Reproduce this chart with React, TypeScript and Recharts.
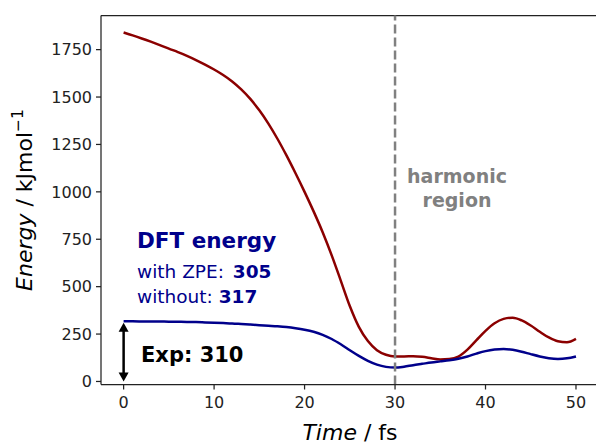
import { LineChart, Line, XAxis, YAxis, ReferenceLine } from "recharts";

// time in fs
const times = [0, 1, 2, 3, 4, 5, 6, 7, 8, 9, 10, 11, 12, 13, 14, 15, 16, 17, 18, 19, 20, 21, 22, 23, 24, 25, 26, 27, 28, 29, 30, 31, 32, 33, 34, 35, 36, 37, 38, 39, 40, 41, 42, 43, 44, 45, 46, 47, 48, 49, 50];
// energies in kJ/mol
const upperEnergy = [1840, 1825, 1809, 1792, 1774, 1755, 1737, 1717, 1695, 1671, 1645, 1616, 1582, 1540, 1490, 1430, 1360, 1280, 1192, 1098, 1000, 897, 787, 665, 532, 398, 288, 213, 165, 141, 132, 132, 133, 130, 123, 116, 118, 131, 168, 218, 267, 307, 330, 336, 322, 295, 262, 232, 212, 207, 225];
const lowerEnergy = [317, 317, 316.8, 316.5, 316, 315.5, 315, 314, 313, 311.5, 310, 308, 306, 303, 300, 297, 294, 291, 287, 281, 273, 262, 246, 224, 196, 165, 135, 109, 89, 77, 73, 78, 86, 93, 100, 106, 112, 120, 132, 147, 160, 168, 171, 167, 157, 144, 132, 123, 119, 122, 132];

const xTicks = [0, 10, 20, 30, 40, 50];
const yTicks = [0, 250, 500, 750, 1000, 1250, 1500, 1750];
const harmonicStart = 30;
const expValue = 310;

const data = times.map((t, i) => ({ t, upper: upperEnergy[i], lower: lowerEnergy[i] }));

const font = "'DejaVu Sans', sans-serif";
const navy = "#00008b";

function DoubleArrow(props: any) {
  const { x1, y1, x2, y2 } = props;
  const head = 9;
  const half = 5;
  const dir = y2 < y1 ? -1 : 1;
  return (
    <g>
      <line x1={x1} y1={y1 + dir * head * 0.6} x2={x2} y2={y2 - dir * head * 0.6} stroke="#000" strokeWidth={2.5} />
      <polygon points={`${x1},${y1} ${x1 - half},${y1 + dir * head} ${x1 + half},${y1 + dir * head}`} fill="#000" />
      <polygon points={`${x2},${y2} ${x2 - half},${y2 - dir * head} ${x2 + half},${y2 - dir * head}`} fill="#000" />
    </g>
  );
}

export default function App() {
  const tickStyle = { fontFamily: font, fontSize: 16, fill: "#222" };
  return (
    <div style={{ position: "absolute", left: 0, top: 0, width: 596, height: 444, overflow: "hidden", background: "#fff" }}>
      <LineChart width={600} height={444} data={data} margin={{ top: 15.5, right: 1.4, bottom: 0, left: 0 }}>
        <XAxis
          dataKey="t"
          type="number"
          domain={[-2.5, 52.5]}
          ticks={xTicks}
          height={59.5}
          tickSize={5}
          tickMargin={7}
          stroke="#222"
          strokeWidth={1.25}
          tick={tickStyle}
        />
        <YAxis
          type="number"
          domain={[-16, 1930]}
          ticks={yTicks}
          width={101}
          tickSize={5}
          tickMargin={4}
          stroke="#222"
          strokeWidth={1.25}
          tick={tickStyle}
        />
        <ReferenceLine y={1930} stroke="#222" strokeWidth={1.25} />
        <Line dataKey="upper" type="monotone" stroke="#8b0000" strokeWidth={2.5} dot={false} isAnimationActive={false} />
        <Line dataKey="lower" type="monotone" stroke={navy} strokeWidth={2.5} dot={false} isAnimationActive={false} />
        <ReferenceLine x={harmonicStart} stroke="#808080" strokeWidth={2.5} strokeDasharray="9 4" />
        <ReferenceLine
          segment={[{ x: 0, y: 0 }, { x: 0, y: expValue }]}
          shape={(p: any) => <DoubleArrow {...p} />}
        />
      </LineChart>
      <svg width={596} height={444} style={{ position: "absolute", left: 0, top: 0, pointerEvents: "none" }} fontFamily={font}>
        <text x={32} y={200} transform="rotate(-90 32 200)" textAnchor="middle" fontSize={22} fill="#000">
          <tspan fontStyle="italic">Energy</tspan>
          <tspan> / kJmol</tspan>
          <tspan fontSize={15.5} dy={-9}>−1</tspan>
        </text>
        <text x={350} y={440} textAnchor="middle" fontSize={22} fill="#000">
          <tspan fontStyle="italic">Time</tspan>
          <tspan> / fs</tspan>
        </text>
        <text x={137} y={248} fontSize={21.5} fontWeight="bold" fill={navy}>DFT energy</text>
        <text x={137} y={278} fontSize={18.5} fill={navy}>
          with ZPE: <tspan fontWeight="bold" dx={3}>305</tspan>
        </text>
        <text x={137} y={303} fontSize={18.5} fill={navy}>
          without: <tspan fontWeight="bold">317</tspan>
        </text>
        <text x={141} y={362} fontSize={21} fontWeight="bold" fill="#000">Exp: 310</text>
        <text x={457} y={183} textAnchor="middle" fontSize={19} fontWeight="bold" fill="#808080">harmonic</text>
        <text x={457} y={207} textAnchor="middle" fontSize={19} fontWeight="bold" fill="#808080">region</text>
      </svg>
    </div>
  );
}
